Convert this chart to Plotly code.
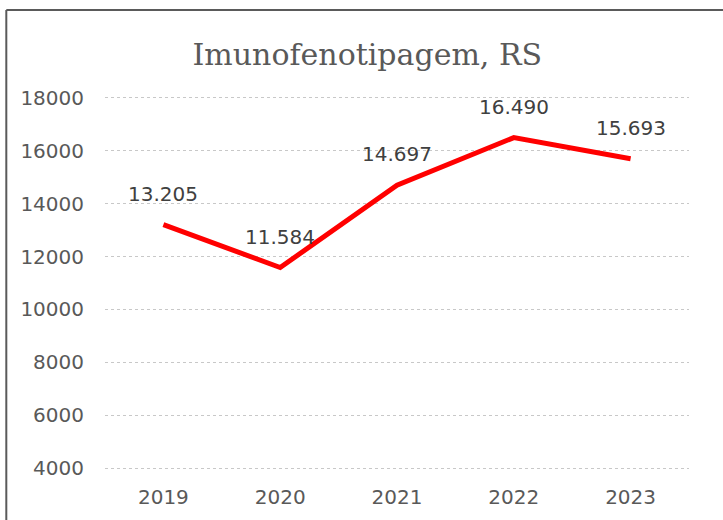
import plotly.graph_objects as go

# Imunofenotipagem, RS - yearly totals
years = ['2019', '2020', '2021', '2022', '2023']
values = [13205, 11584, 14697, 16490, 15693]
y_ticks = [4000, 6000, 8000, 10000, 12000, 14000, 16000, 18000]

# Brazilian style thousands separator
labels = [f'{v:,}'.replace(',', '.') for v in values]

fig = go.Figure()
fig.add_trace(go.Scatter(x=years, y=values, mode='lines',
                         line=dict(color='#ff0000', width=5),
                         hoverinfo='skip', showlegend=False))

# category index used as x, numeric-looking names confuse annotations
for i, (v, lab) in enumerate(zip(values, labels)):
    fig.add_annotation(x=i, y=v, text=lab, showarrow=False, yshift=31,
                       font=dict(family='DejaVu Sans', size=20, color='#404040'))

# frame of the original figure (only top and left edges are visible)
fig.add_shape(type='line', xref='paper', yref='paper',
              x0=-0.169, x1=1.1, y0=1.226, y1=1.226,
              line=dict(color='#5a5a5a', width=2))
fig.add_shape(type='line', xref='paper', yref='paper',
              x0=-0.169, x1=-0.169, y0=1.226, y1=-0.2,
              line=dict(color='#5a5a5a', width=2))

fig.update_layout(
    width=723, height=520,
    margin=dict(l=105, r=34, t=95, b=49),
    paper_bgcolor='white', plot_bgcolor='white',
    title=dict(text='Imunofenotipagem, RS', x=0.508, xanchor='center',
               y=0.895, yanchor='middle',
               font=dict(family='DejaVu Serif', size=30, color='#595959')),
    xaxis=dict(type='category', range=[-0.5, 4.5], showgrid=False,
               showline=False, zeroline=False, ticks='', automargin=False,
               ticklabelstandoff=12,
               tickfont=dict(family='DejaVu Sans', size=20, color='#595959')),
    yaxis=dict(range=[3900, 18100], tickvals=y_ticks, tickformat='d',
               showgrid=True, gridcolor='#c8c8c8', griddash='dot', gridwidth=1,
               showline=False, zeroline=False, ticks='', automargin=False,
               ticklabelstandoff=20,
               tickfont=dict(family='DejaVu Sans', size=20, color='#595959')),
)

fig.write_html('out.html', config={'displayModeBar': False},
               post_script="document.body.style.margin='0';")
